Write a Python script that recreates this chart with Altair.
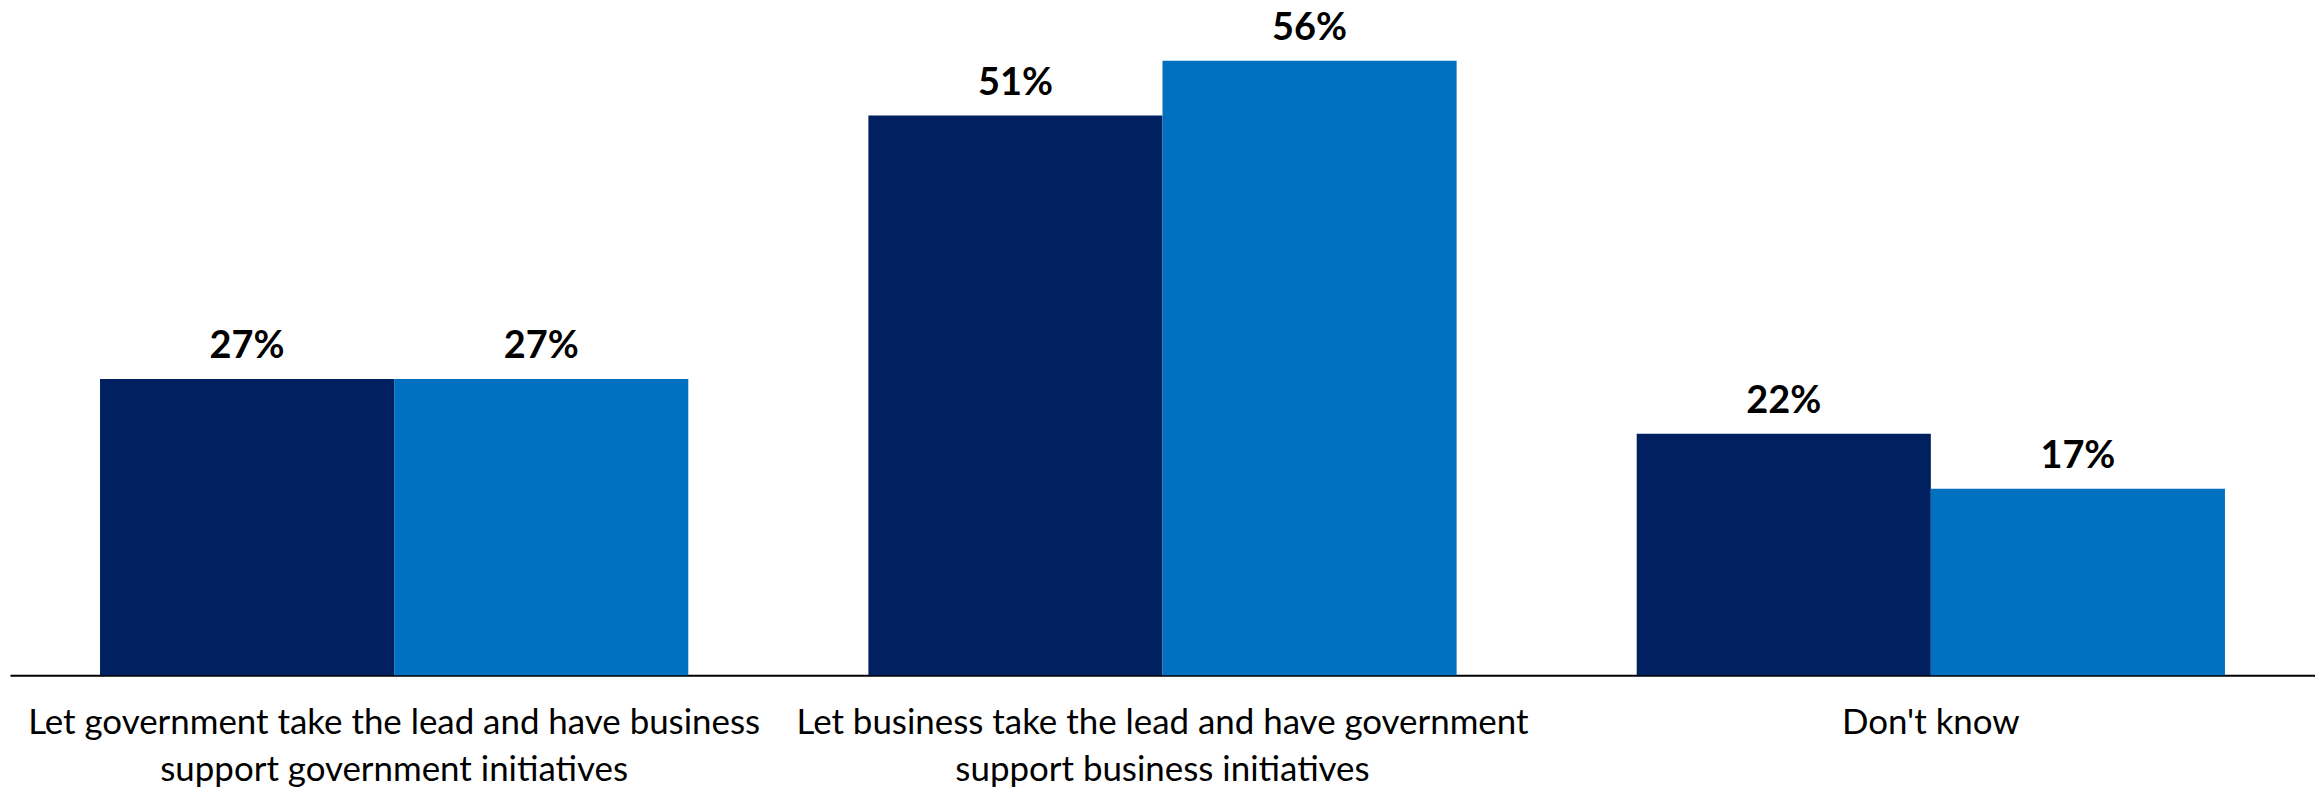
import altair as alt
import pandas as pd

categories = [
    "Let government take the lead and have business\nsupport government initiatives",
    "Let business take the lead and have government\nsupport business initiatives",
    "Don't know",
]
series_names = ["Series 1", "Series 2"]
series1_values = [27, 51, 22]
series2_values = [27, 56, 17]
colors = ["#002060", "#0070C0"]

rows = []
for c, v1, v2 in zip(categories, series1_values, series2_values):
    rows.append({"category": c, "series": series_names[0], "value": v1})
    rows.append({"category": c, "series": series_names[1], "value": v2})
df = pd.DataFrame(rows)

x_enc = alt.X(
    "category:N",
    sort=categories,
    scale=alt.Scale(paddingInner=0.2344, paddingOuter=0.1172),
    axis=alt.Axis(
        title=None,
        labelAngle=0,
        labelExpr="split(datum.label, '\\n')",
        labelFont="Lato",
        labelFontSize=35,
        labelLineHeight=47,
        labelColor="#000000",
        labelPadding=31,
        labelLimit=900,
        labelBaseline="top",
        ticks=False,
        domainColor="#000000",
        domainWidth=2,
        grid=False,
    ),
)
xoff_enc = alt.XOffset(
    "series:N", sort=series_names, scale=alt.Scale(paddingInner=0, paddingOuter=0)
)
y_enc = alt.Y("value:Q", scale=alt.Scale(domain=[0, 60.7], nice=False), axis=None)

base = alt.Chart(df).encode(x=x_enc, xOffset=xoff_enc, y=y_enc)

bars = base.mark_bar(strokeWidth=0).encode(
    color=alt.Color(
        "series:N",
        sort=series_names,
        scale=alt.Scale(domain=series_names, range=colors),
        legend=None,
    )
)

labels = base.mark_text(
    font="Lato", fontSize=38, fontWeight="bold", color="#000000",
    baseline="alphabetic", dy=-21, align="center"
).encode(text=alt.Text("label:N")).transform_calculate(
    label="datum.value + '%'"
)

chart = (
    alt.layer(bars, labels)
    .properties(
        width=2312, height=668,
        padding={"left": 2, "top": 0, "right": 0, "bottom": 0},
        background="#ffffff",
    )
    .configure_view(strokeWidth=0, stroke="transparent")
)

chart.save("out.html", embed_options={"renderer": "svg", "actions": False})
